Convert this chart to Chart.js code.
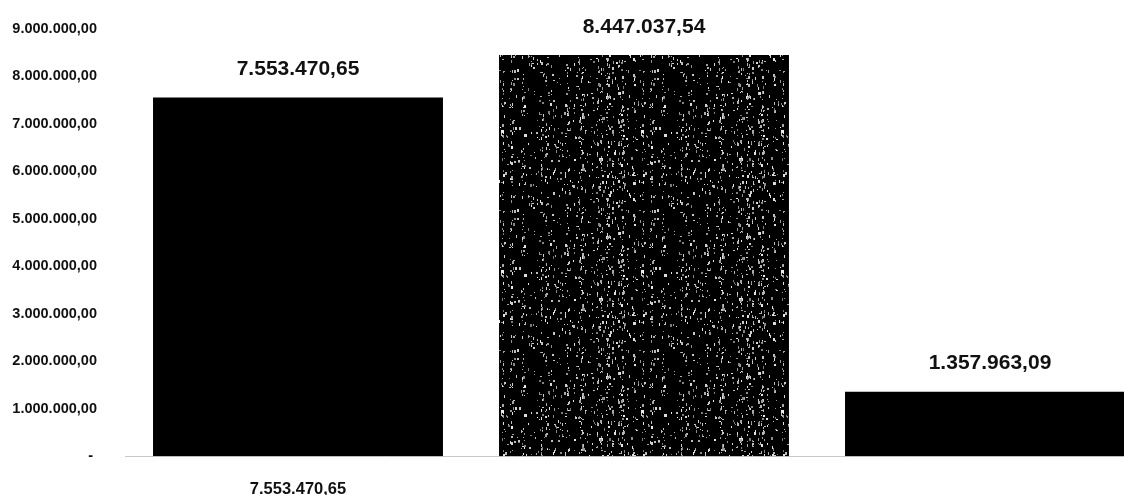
<!DOCTYPE html>
<html>
<head>
<meta charset="utf-8">
<script src="https://cdn.jsdelivr.net/npm/chart.js@4"></script>
<style>
  html, body { margin: 0; padding: 0; background: #fff; overflow: hidden; width: 1124px; height: 495px; }
  #wrap { position: relative; width: 1163px; height: 514px; }
</style>
</head>
<body>
<div id="wrap"><canvas id="c"></canvas></div>
<script>
const categories = ["7.553.470,65", "", ""];
const values = [7553470.65, 8447037.54, 1357963.09];
const yTicks = [0, 1000000, 2000000, 3000000, 4000000, 5000000, 6000000, 7000000, 8000000, 9000000];

function fmt(v) {
  return v.toLocaleString('de-DE', { minimumFractionDigits: 2, maximumFractionDigits: 2 });
}

// speckled dark texture for the middle bar (deterministic)
function makePattern() {
  const p = document.createElement('canvas');
  p.width = 140; p.height = 140;
  const g = p.getContext('2d');
  g.fillStyle = '#000000';
  g.fillRect(0, 0, 140, 140);
  let s = 987654;
  function next() { s = (s * 1103515245 + 12345) & 0x7fffffff; return s / 0x7fffffff; }
  const cols = [];
  for (let i = 0; i < 18; i++) cols.push(Math.floor(next() * 140));
  for (let i = 0; i < 750; i++) {
    let x = next() < 0.4 ? cols[Math.floor(next() * cols.length)] + Math.floor(next() * 3) - 1 : Math.floor(next() * 140);
    const y = Math.floor(next() * 140);
    const h = 1 + Math.floor(next() * 3);
    const c = 120 + Math.floor(next() * 120);
    g.fillStyle = 'rgb(' + c + ',' + c + ',' + c + ')';
    g.fillRect((x + 140) % 140, y, next() < 0.3 ? 2 : 1, h);
  }
  return g.createPattern(p, 'repeat');
}

const labelPlugin = {
  id: 'valueLabels',
  afterDatasetsDraw(chart) {
    const ctx = chart.ctx;
    const meta = chart.getDatasetMeta(0);
    ctx.save();
    ctx.font = 'bold 21px "Liberation Sans", Arial, sans-serif';
    ctx.fillStyle = '#111';
    ctx.textAlign = 'center';
    ctx.textBaseline = 'middle';
    meta.data.forEach((el, i) => {
      ctx.fillText(fmt(values[i]), el.x, el.y - 28);
    });
    ctx.restore();
  }
};

const ctx = document.getElementById('c').getContext('2d');
new Chart(ctx, {
  type: 'bar',
  data: {
    labels: categories,
    datasets: [{
      data: values,
      backgroundColor: ['#000000', makePattern(), '#000000'],
      borderWidth: 0,
      categoryPercentage: 1,
      barPercentage: 0.838
    }]
  },
  options: {
    responsive: true,
    maintainAspectRatio: false,
    animation: false,
    layout: { padding: { top: 7, right: 0, bottom: 0, left: 0 } },
    plugins: { legend: { display: false }, tooltip: { enabled: false } },
    scales: {
      x: {
        grid: { display: false },
        border: { display: true, color: '#c8c8c8', dash: [1, 4] },
        ticks: {
          color: '#111',
          padding: 15,
          maxRotation: 0,
          font: { family: '"Liberation Sans", Arial, sans-serif', size: 16.5, weight: 'bold' }
        }
      },
      y: {
        min: 0,
        max: 9000000,
        afterBuildTicks(axis) { axis.ticks = yTicks.map(v => ({ value: v })); },
        afterFit(axis) { axis.width = 125; },
        grid: { display: false },
        border: { display: false },
        ticks: {
          color: '#111',
          padding: 20,
          font: { family: '"Liberation Sans", Arial, sans-serif', size: 14.5, weight: 'bold' },
          callback: v => v === 0 ? '- ' : fmt(v)
        }
      }
    }
  },
  plugins: [labelPlugin]
});
</script>
</body>
</html>
